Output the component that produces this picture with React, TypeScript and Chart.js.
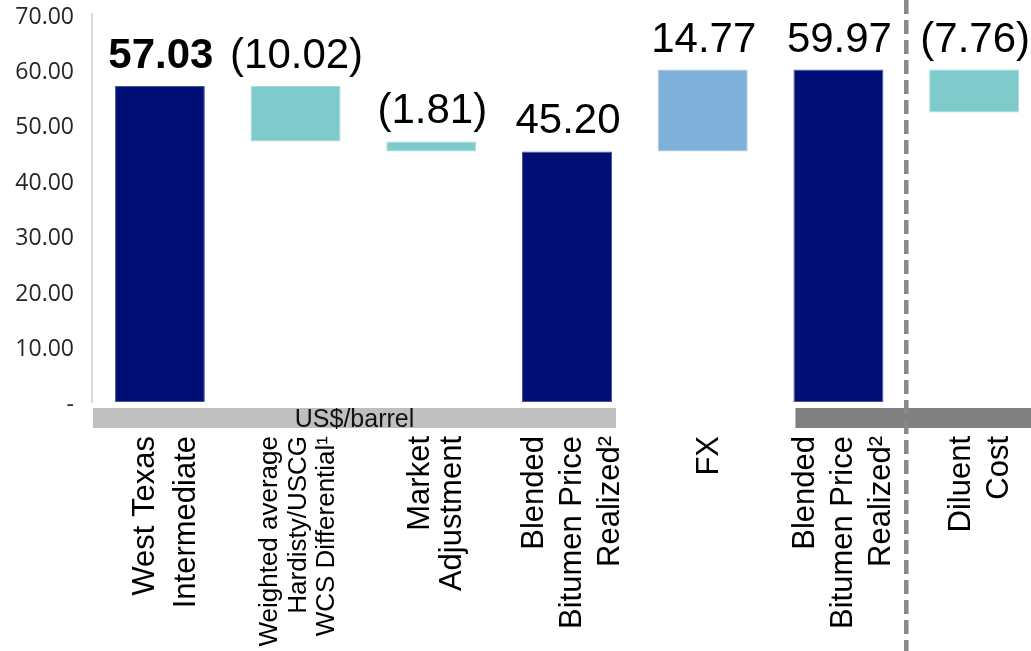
import React, { useEffect, useRef } from "react";
import { Chart, registerables } from "chart.js";

Chart.register(...registerables);

// ---- data ----
const categories: string[][] = [
  ["West Texas", "Intermediate"],
  ["Weighted average", "Hardisty/USCG", "WCS Differential¹"],
  ["Market", "Adjustment"],
  ["Blended", "Bitumen Price", "Realized²"],
  ["FX"],
  ["Blended", "Bitumen Price", "Realized²"],
  ["Diluent", "Cost"],
];
const barStart = [0, 47.01, 45.2, 0, 45.2, 0, 52.21];
const barEnd = [57.03, 57.03, 47.01, 45.2, 59.97, 59.97, 59.97];
const valueLabels = ["57.03", "(10.02)", "(1.81)", "45.20", "14.77", "59.97", "(7.76)"];
const barKinds = ["total", "down", "down", "total", "up", "total", "down"];
const yTickValues = [0, 10, 20, 30, 40, 50, 60, 70];
const unitLabel = "US$/barrel";

// ---- styles ----
const kindFill: Record<string, string> = { total: "#000F75", down: "#7FCBCB", up: "#7FB0DA" };
const kindBorder: Record<string, string> = { total: "#4B559E", down: "#A6DCDC", up: "#A6C6E6" };
const catStyle = [
  { size: 31, gap: 41, shift: 15 },
  { size: 26, gap: 28.5, shift: 10 },
  { size: 31, gap: 32, shift: 14 },
  { size: 31, gap: 38, shift: 14 },
  { size: 31, gap: 38, shift: 15 },
  { size: 31, gap: 38, shift: 14 },
  { size: 31, gap: 38, shift: 15 },
];
const SANS = '"Liberation Sans", Arial, sans-serif';

const overlayPlugin = {
  id: "overlay",
  afterDatasetsDraw(chart: any) {
    const ctx = chart.ctx as CanvasRenderingContext2D;
    const xs = chart.scales.x;
    const ys = chart.scales.y;
    const area = chart.chartArea;
    const W = chart.width;
    const H = chart.height;
    ctx.save();

    // value labels
    ctx.fillStyle = "#000";
    ctx.textAlign = "center";
    ctx.textBaseline = "alphabetic";
    for (let i = 0; i < valueLabels.length; i++) {
      const cx = xs.getPixelForValue(i);
      const top = ys.getPixelForValue(Math.max(barStart[i], barEnd[i]));
      ctx.font = (i === 0 ? "bold " : "") + "42px " + SANS;
      ctx.fillText(valueLabels[i], cx + 1, top - 18);
    }

    // bands under the axis
    const bandY = area.bottom + 6;
    const bandH = 20;
    const lightL = area.left + 1;
    const lightR = xs.getPixelForValue(3) + 49;
    ctx.fillStyle = "#BFBFBF";
    ctx.fillRect(lightL, bandY, lightR - lightL, bandH);
    const darkL = xs.getPixelForValue(5) - 43;
    ctx.fillStyle = "#808080";
    ctx.fillRect(darkL, bandY, W - darkL, bandH);
    ctx.fillStyle = "#111";
    ctx.font = "25px " + SANS;
    ctx.textAlign = "center";
    ctx.fillText(unitLabel, (lightL + lightR) / 2, bandY + 19);

    // category labels (rotated)
    ctx.fillStyle = "#000";
    for (let i = 0; i < categories.length; i++) {
      const lines = categories[i];
      const st = catStyle[i];
      const cx = xs.getPixelForValue(i);
      ctx.save();
      ctx.translate(cx, bandY + bandH + 8);
      ctx.rotate(-Math.PI / 2);
      ctx.textAlign = "right";
      ctx.textBaseline = "alphabetic";
      ctx.font = st.size + "px " + SANS;
      const n = lines.length;
      lines.forEach((ln, j) => {
        ctx.fillText(ln, 0, st.shift + (j - (n - 1) / 2) * st.gap);
      });
      ctx.restore();
    }

    // dashed separator
    const sx = (xs.getPixelForValue(5) + xs.getPixelForValue(6)) / 2;
    ctx.strokeStyle = "#888888";
    ctx.lineWidth = 4.5;
    ctx.setLineDash([14, 6]);
    ctx.beginPath();
    ctx.moveTo(sx, 0);
    ctx.lineTo(sx, H);
    ctx.stroke();
    ctx.restore();
  },
};

export default function App() {
  const ref = useRef<HTMLCanvasElement | null>(null);

  useEffect(() => {
    if (!ref.current) return;
    const chart = new Chart(ref.current, {
      type: "bar",
      data: {
        labels: categories,
        datasets: [
          {
            data: barStart.map((s, i) => [s, barEnd[i]]) as any,
            backgroundColor: barKinds.map((k) => kindFill[k]),
            borderColor: barKinds.map((k) => kindBorder[k]),
            borderWidth: 1,
            borderSkipped: false,
            categoryPercentage: 1,
            barPercentage: 0.663,
          },
        ],
      },
      options: {
        responsive: false,
        animation: false,
        devicePixelRatio: 1,
        layout: { padding: { top: 14, bottom: 249, left: 0, right: 0 } },
        plugins: { legend: { display: false }, tooltip: { enabled: false } },
        scales: {
          x: {
            type: "category",
            display: false,
            offset: true,
            grid: { display: false },
          },
          y: {
            min: 0,
            max: 70,
            afterBuildTicks: (s: any) => {
              s.ticks = yTickValues.map((v) => ({ value: v }));
            },
            afterFit: (s: any) => {
              s.width = 92;
              s.paddingTop = 0;
              s.paddingBottom = 0;
            },
            ticks: {
              callback: (v: any) => (Number(v) === 0 ? "-" : Number(v).toFixed(2)),
              font: { family: '"Open Sans", "Noto Sans", sans-serif', size: 23 },
              color: "#262626",
              padding: 18,
              labelOffset: 3,
            },
            grid: { display: false, drawTicks: false },
            border: { display: true, color: "#D9D9D9", width: 2 },
          },
        },
      },
      plugins: [overlayPlugin],
    });
    return () => chart.destroy();
  }, []);

  return (
    <div style={{ position: "absolute", left: 0, top: 0, width: 1031, height: 651, overflow: "hidden", background: "#fff" }}>
      <canvas ref={ref} width={1042} height={651} style={{ width: 1042, height: 651, display: "block" }} />
    </div>
  );
}
